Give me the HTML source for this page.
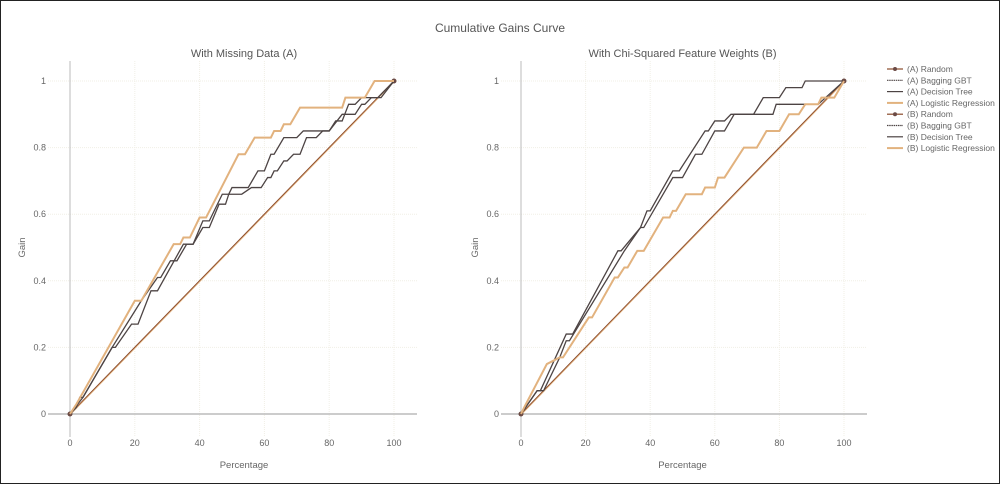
<!DOCTYPE html>
<html><head><meta charset="utf-8"><style>
body{margin:0;background:#fff;}
#wrap{width:998px;height:482px;border:1px solid #222;position:relative;overflow:hidden;background:#fff;}
svg text{font-family:"Liberation Sans",sans-serif;fill:#666;}
</style></head><body>
<div id="wrap">
<svg id="svg" width="998" height="482"></svg>
</div>
<script>
// Panel A data
const aLogX=[0,2,20,22,32,34,35,37,40,42,52,54,57,62,63,65,66,68,71,84,85,91,94,100];
const aLogY=[0,0.03,0.34,0.34,0.51,0.51,0.53,0.53,0.59,0.59,0.78,0.78,0.83,0.83,0.85,0.85,0.87,0.87,0.92,0.92,0.95,0.95,1,1];
const aGbtX=[0,2,3,4,13,22,27,28,31,33,36,38,41,43,47,49,50,55,58,60,62,63,66,70,72,80,82,84,86,88,90,96,100];
const aGbtY=[0,0.02,0.05,0.05,0.2,0.34,0.41,0.41,0.46,0.46,0.51,0.51,0.58,0.58,0.66,0.66,0.68,0.68,0.73,0.73,0.78,0.78,0.83,0.83,0.85,0.85,0.88,0.88,0.93,0.93,0.95,0.95,1];
const aDtX=[0,4,13,14,19,21,25,27,35,38,41,43,46,48,49,53,56,59,61,62,63,64,66,67,69,71,73,76,78,80,84,88,90,91,93,95,98,100];
const aDtY=[0,0.05,0.2,0.2,0.27,0.27,0.37,0.37,0.51,0.51,0.56,0.56,0.63,0.63,0.66,0.66,0.68,0.68,0.71,0.71,0.73,0.73,0.76,0.76,0.78,0.78,0.83,0.83,0.85,0.85,0.9,0.9,0.93,0.93,0.95,0.95,0.98,1];
// Panel B data
const bGbtX=[0,5,6,14,16,30,31,37,39,40,47,49,57,58,60,63,65,72,75,80,82,87,88,100];
const bGbtY=[0,0.07,0.07,0.24,0.24,0.49,0.49,0.56,0.61,0.61,0.73,0.73,0.85,0.85,0.88,0.88,0.9,0.9,0.95,0.95,0.98,0.98,1,1];
const bDtX=[0,5,7,12,14,15,32,37,38,47,50,54,56,60,63,66,78,79,92,100];
const bDtY=[0,0.07,0.07,0.17,0.22,0.22,0.49,0.56,0.56,0.71,0.71,0.78,0.78,0.85,0.85,0.9,0.9,0.93,0.93,1];
const bLogX=[0,1,8,12,13,21,22,29,30,32,33,36,38,44,46,47,48,51,56,57,60,61,63,69,73,76,80,83,86,88,92,93,97,100];
const bLogY=[0,0.02,0.15,0.17,0.17,0.29,0.29,0.41,0.41,0.44,0.44,0.49,0.49,0.59,0.59,0.61,0.61,0.66,0.66,0.68,0.68,0.71,0.71,0.8,0.8,0.85,0.85,0.9,0.9,0.93,0.93,0.95,0.95,1];
const randX=[0,100];
const randY=[0,1];
const xTicks=[0,20,40,60,80,100];
const yTicks=[0,0.2,0.4,0.6,0.8,1];
const yTickLabels=["0","0.2","0.4","0.6","0.8","1"];
const legendLabels=["(A) Random","(A) Bagging GBT","(A) Decision Tree","(A) Logistic Regression","(B) Random","(B) Bagging GBT","(B) Decision Tree","(B) Logistic Regression"];

const NS="http://www.w3.org/2000/svg";
const svg=document.getElementById('svg');
function mk(tag,attrs,parent){const e=document.createElementNS(NS,tag);for(const k in attrs)e.setAttribute(k,attrs[k]);(parent||svg).appendChild(e);return e;}
const ORANGE="#e2b27e", DARK="#4d4444", BROWN="#8a4b2c";

const panels=[
 {name:'panel-a',title:'With Missing Data (A)',x0:69,x1:393,left:47,right:416,series:[[aGbtX,aGbtY,'bagging-gbt'],[aDtX,aDtY,'decision-tree'],[aLogX,aLogY,'logistic-regression']]},
 {name:'panel-b',title:'With Chi-Squared Feature Weights (B)',x0:520,x1:843,left:500,right:866,series:[[bGbtX,bGbtY,'bagging-gbt'],[bDtX,bDtY,'decision-tree'],[bLogX,bLogY,'logistic-regression']]}
];
const yPix=v=>413-v*333;

const t=mk('text',{x:499,y:31,'text-anchor':'middle','font-size':12,style:'fill:#555'});
t.textContent='Cumulative Gains Curve';



panels.forEach(p=>{
  const g=mk('g',{});
  
  
  const xPix=v=>p.x0+(p.x1-p.x0)*v/100;
  // grid
  xTicks.forEach(v=>{if(v>0){const l=mk('line',{x1:xPix(v),x2:xPix(v),y1:60,y2:436,stroke:'#f1efe6','stroke-dasharray':'1,1'},g);}});
  yTicks.forEach(v=>{if(v>0){const l=mk('line',{x1:p.left,x2:p.right,y1:yPix(v),y2:yPix(v),stroke:'#f1efe6','stroke-dasharray':'1,1'},g);}});
  // zero lines
  const zx=mk('line',{x1:p.left,x2:p.right,y1:yPix(0),y2:yPix(0),stroke:'#bbb','stroke-width':1.5},g);
  
  const zy=mk('line',{x1:xPix(0),x2:xPix(0),y1:60,y2:436,stroke:'#bbb','stroke-width':1},g);
  
  // ticks
  xTicks.forEach(v=>{const tt=mk('text',{x:xPix(v),y:445,'text-anchor':'middle','font-size':9},g);tt.textContent=String(v);});
  yTicks.forEach((v,i)=>{const tt=mk('text',{x:p.left-2,y:yPix(v)+3,'text-anchor':'end','font-size':9},g);tt.textContent=yTickLabels[i];});
  const st=mk('text',{x:(p.x0+p.x1)/2+(p.name==='panel-a'?12:0),y:56,'text-anchor':'middle','font-size':11,style:'fill:#555'},g);
  st.textContent=p.title;
  const xt=mk('text',{x:(p.x0+p.x1)/2+(p.name==='panel-a'?12:0),y:467,'text-anchor':'middle','font-size':9.5},g);
  xt.textContent='Percentage';
  const yt=mk('text',{x:0,y:0,'text-anchor':'middle','font-size':9.5,transform:`translate(${p.left-23},${yPix(0.5)}) rotate(-90)`},g);
  yt.textContent='Gain';
  // random line
  const rp=randX.map((v,i)=>xPix(v)+','+yPix(randY[i])).join(' ');
  const r1=mk('polyline',{points:rp,fill:'none',stroke:BROWN,'stroke-width':1.2},g);
  
  const r2=mk('polyline',{points:rp,fill:'none',stroke:ORANGE,'stroke-width':0.8,transform:'translate(1,0)'},g);
  
  randX.forEach((v,i)=>{const c=mk('circle',{cx:xPix(v),cy:yPix(randY[i]),r:2.5,fill:'#6b4a44'},g);});
  p.series.forEach(s=>{
    const pts=s[0].map((v,i)=>xPix(v)+','+yPix(s[1][i])).join(' ');
    const isLog=s[2]==='logistic-regression';
    const pl=mk('polyline',{points:pts,fill:'none',stroke:isLog?ORANGE:DARK,'stroke-width':isLog?2:1.3},g);
    
    
  });
});

// legend
legendLabels.forEach((lab,i)=>{
  const y=68+i*11.3;
  const g=mk('g',{});
  
  
  const kind=i%4;
  const col=kind===3?ORANGE:(kind===0?BROWN:DARK);
  mk('line',{x1:886,x2:902,y1:y,y2:y,stroke:col,'stroke-width':kind===3?2:1.2,'stroke-dasharray':kind===1?'1.5,0.7':'none'},g);
  if(kind===0)mk('circle',{cx:894,cy:y,r:2,fill:'#6b4a44'},g);
  const tt=mk('text',{x:906,y:y+3,'font-size':8.5},g);
  tt.textContent=lab;
});
</script>
</body></html>
